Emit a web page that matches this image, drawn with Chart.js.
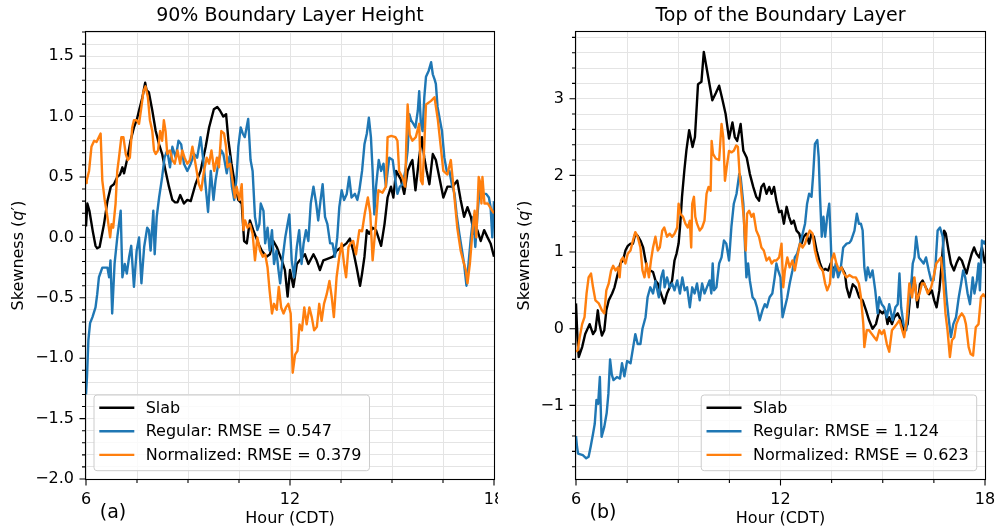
<!DOCTYPE html>
<html>
<head>
<meta charset="utf-8">
<script src="https://cdn.jsdelivr.net/npm/chart.js@4.4.1/dist/chart.umd.min.js"></script>
<style>
  html, body { margin: 0; padding: 0; background: #fff; }
  #wrap { position: relative; width: 996px; height: 530px; overflow: hidden; }
  .panel { position: absolute; top: 0; width: 498px; height: 530px; }
</style>
</head>
<body>
<div id="wrap">
  <div class="panel" style="left:0"><canvas id="cA" width="498" height="530"></canvas></div>
  <div class="panel" style="left:498px"><canvas id="cB" width="498" height="530"></canvas></div>
</div>
<script>
// ---- Panel (a): skewness at 90% boundary layer height, [hour CDT, skewness] ----
const slabA = [[6.00,0.09],[6.04,0.28],[6.10,0.22],[6.20,0.05],[6.28,-0.07],[6.33,-0.09],[6.40,-0.08],[6.53,0.11],[6.63,0.30],[6.73,0.42],[6.82,0.44],[6.92,0.50],[7.00,0.52],[7.07,0.58],[7.12,0.53],[7.22,0.66],[7.31,0.80],[7.41,0.91],[7.50,0.98],[7.56,1.05],[7.66,1.16],[7.74,1.28],[7.78,1.22],[7.85,1.20],[7.95,1.05],[8.05,0.88],[8.15,0.77],[8.24,0.69],[8.34,0.55],[8.44,0.42],[8.54,0.31],[8.62,0.29],[8.69,0.29],[8.77,0.35],[8.88,0.28],[8.98,0.31],[9.08,0.30],[9.22,0.44],[9.37,0.55],[9.52,0.75],[9.62,0.91],[9.76,1.06],[9.86,1.08],[9.94,1.05],[10.04,1.00],[10.12,1.02],[10.19,0.80],[10.28,0.61],[10.38,0.44],[10.48,0.31],[10.58,0.28],[10.65,-0.03],[10.73,-0.05],[10.82,0.14],[10.92,0.06],[11.07,-0.05],[11.17,-0.11],[11.31,-0.16],[11.41,-0.14],[11.51,-0.03],[11.61,-0.08],[11.76,-0.19],[11.85,-0.27],[11.93,-0.49],[12.00,-0.27],[12.10,-0.41],[12.20,-0.22],[12.29,-0.19],[12.44,-0.14],[12.54,-0.22],[12.69,-0.14],[12.78,-0.19],[12.88,-0.27],[12.98,-0.19],[13.08,-0.18],[13.27,-0.16],[13.37,-0.11],[13.52,-0.08],[13.66,-0.05],[13.76,-0.01],[13.86,-0.11],[13.96,-0.25],[14.06,-0.40],[14.12,-0.30],[14.19,-0.16],[14.26,0.06],[14.33,0.03],[14.43,0.08],[14.53,0.06],[14.68,-0.07],[14.78,0.11],[14.87,0.33],[14.97,0.42],[15.04,0.33],[15.12,0.55],[15.26,0.48],[15.36,0.36],[15.46,0.55],[15.56,0.62],[15.60,0.64],[15.69,0.39],[15.79,0.64],[15.88,0.83],[15.95,0.66],[16.02,0.55],[16.10,0.44],[16.20,0.69],[16.29,0.64],[16.39,0.50],[16.51,0.33],[16.63,0.42],[16.78,0.42],[16.92,0.47],[17.02,0.31],[17.12,0.17],[17.22,0.25],[17.32,0.17],[17.41,0.03],[17.51,0.06],[17.61,-0.03],[17.71,0.06],[17.81,0.00],[17.90,-0.05],[18.00,-0.16]];

const regularA = [[6.00,-1.30],[6.03,-1.15],[6.07,-0.85],[6.12,-0.71],[6.19,-0.66],[6.28,-0.58],[6.33,-0.47],[6.38,-0.33],[6.48,-0.25],[6.63,-0.25],[6.68,-0.33],[6.72,-0.19],[6.77,-0.63],[6.84,-0.22],[6.92,0.00],[7.02,0.22],[7.07,-0.33],[7.14,-0.22],[7.20,-0.30],[7.27,-0.16],[7.33,-0.07],[7.41,-0.41],[7.49,-0.11],[7.56,0.00],[7.63,-0.38],[7.71,-0.08],[7.80,0.08],[7.85,0.06],[7.90,-0.11],[7.98,0.22],[8.02,-0.14],[8.08,0.17],[8.15,0.33],[8.24,0.50],[8.31,0.66],[8.39,0.72],[8.47,0.58],[8.54,0.75],[8.64,0.66],[8.72,0.80],[8.80,0.77],[8.88,0.61],[8.98,0.55],[9.08,0.61],[9.18,0.69],[9.27,0.66],[9.37,0.83],[9.45,0.64],[9.52,0.42],[9.59,0.21],[9.67,0.55],[9.75,0.31],[9.81,0.47],[9.91,0.64],[9.98,0.72],[10.04,0.69],[10.14,0.53],[10.22,0.67],[10.29,0.42],[10.36,0.31],[10.43,0.50],[10.48,0.75],[10.55,0.91],[10.61,0.86],[10.67,0.83],[10.77,0.98],[10.84,0.64],[10.90,0.55],[10.97,0.17],[11.04,0.06],[11.10,0.11],[11.14,0.28],[11.22,0.22],[11.27,-0.05],[11.34,0.08],[11.40,-0.11],[11.47,0.06],[11.53,-0.22],[11.60,-0.11],[11.66,-0.27],[11.71,-0.38],[11.79,-0.16],[11.86,0.00],[11.91,0.08],[11.98,0.19],[12.05,-0.19],[12.12,-0.33],[12.20,-0.08],[12.27,0.06],[12.34,-0.22],[12.40,-0.05],[12.47,0.06],[12.54,-0.03],[12.61,0.28],[12.69,0.42],[12.77,0.28],[12.83,0.14],[12.90,0.31],[12.96,0.44],[13.03,0.17],[13.10,0.11],[13.18,-0.05],[13.25,-0.05],[13.32,-0.16],[13.39,0.00],[13.45,0.25],[13.52,0.39],[13.59,0.31],[13.67,0.36],[13.74,0.50],[13.81,0.33],[13.91,0.36],[13.98,0.31],[14.04,0.39],[14.12,0.55],[14.19,0.77],[14.26,0.86],[14.32,0.99],[14.38,0.83],[14.43,0.55],[14.48,0.19],[14.53,0.42],[14.61,0.64],[14.68,0.55],[14.75,0.61],[14.82,0.42],[14.92,0.66],[15.02,0.64],[15.10,0.47],[15.16,0.36],[15.23,0.42],[15.31,0.44],[15.39,0.55],[15.46,0.72],[15.51,1.02],[15.56,0.97],[15.63,0.94],[15.69,0.91],[15.76,1.05],[15.80,1.21],[15.85,0.94],[15.90,0.88],[15.95,1.16],[16.00,1.33],[16.08,1.38],[16.15,1.45],[16.20,1.35],[16.25,1.31],[16.29,1.27],[16.34,1.08],[16.41,0.97],[16.47,0.88],[16.54,0.66],[16.61,0.55],[16.69,0.55],[16.76,0.44],[16.84,0.36],[16.90,0.19],[16.98,0.03],[17.06,-0.11],[17.12,-0.22],[17.19,-0.40],[17.25,-0.22],[17.32,0.00],[17.39,0.17],[17.45,-0.08],[17.51,0.17],[17.58,0.42],[17.64,0.33],[17.71,0.36],[17.77,0.36],[17.85,0.33],[17.90,0.25],[17.95,0.00],[18.00,0.30]];

const normalizedA = [[6.00,0.45],[6.02,0.47],[6.09,0.55],[6.16,0.75],[6.24,0.80],[6.31,0.79],[6.38,0.83],[6.43,0.86],[6.48,0.47],[6.55,0.31],[6.63,0.17],[6.71,0.00],[6.75,0.11],[6.80,0.08],[6.87,0.28],[6.92,0.55],[6.97,0.66],[7.04,0.83],[7.10,0.83],[7.17,0.69],[7.23,0.64],[7.29,0.66],[7.36,0.91],[7.41,0.97],[7.49,0.97],[7.56,0.94],[7.63,1.08],[7.69,1.21],[7.75,1.25],[7.82,1.16],[7.88,0.97],[7.95,0.88],[8.00,0.72],[8.05,0.69],[8.12,0.72],[8.18,0.88],[8.24,0.80],[8.29,0.97],[8.34,0.88],[8.39,0.69],[8.47,0.72],[8.54,0.64],[8.61,0.61],[8.69,0.72],[8.77,0.61],[8.83,0.72],[8.90,0.66],[8.98,0.61],[9.06,0.64],[9.13,0.75],[9.22,0.61],[9.32,0.44],[9.39,0.39],[9.47,0.55],[9.55,0.66],[9.62,0.61],[9.69,0.72],[9.77,0.55],[9.85,0.66],[9.91,0.58],[9.98,0.88],[10.06,0.86],[10.12,0.75],[10.16,0.58],[10.24,0.61],[10.31,0.47],[10.38,0.33],[10.43,0.42],[10.51,0.31],[10.58,0.44],[10.63,0.06],[10.68,0.14],[10.75,0.08],[10.82,0.11],[10.90,0.03],[10.97,-0.19],[11.04,0.00],[11.12,-0.11],[11.20,-0.16],[11.27,-0.14],[11.34,-0.25],[11.40,-0.44],[11.47,-0.63],[11.53,-0.55],[11.61,-0.60],[11.67,-0.41],[11.74,-0.58],[11.81,-0.63],[11.88,-0.58],[11.95,-0.55],[12.02,-0.63],[12.08,-1.12],[12.15,-0.97],[12.22,-0.94],[12.28,-0.72],[12.35,-0.77],[12.42,-0.58],[12.49,-0.72],[12.57,-0.58],[12.64,-0.66],[12.71,-0.77],[12.79,-0.74],[12.86,-0.55],[12.93,-0.69],[13.00,-0.55],[13.08,-0.47],[13.16,-0.36],[13.23,-0.50],[13.29,-0.66],[13.37,-0.33],[13.45,-0.16],[13.52,-0.05],[13.59,-0.22],[13.65,-0.33],[13.72,-0.08],[13.78,-0.05],[13.86,-0.03],[13.94,-0.14],[14.04,0.06],[14.12,0.05],[14.20,0.20],[14.29,0.33],[14.36,0.20],[14.43,-0.19],[14.52,0.10],[14.60,0.39],[14.72,0.37],[14.82,0.42],[14.87,0.83],[14.98,0.84],[15.10,0.83],[15.16,0.80],[15.21,0.55],[15.30,0.50],[15.39,0.42],[15.42,0.78],[15.46,1.10],[15.52,0.85],[15.60,0.80],[15.70,0.83],[15.80,0.94],[15.85,0.47],[15.90,0.44],[16.00,1.10],[16.15,1.13],[16.25,1.16],[16.35,0.97],[16.51,0.55],[16.63,0.52],[16.73,0.64],[16.80,0.44],[16.92,0.08],[17.02,-0.11],[17.09,-0.19],[17.17,-0.27],[17.22,-0.38],[17.29,-0.22],[17.37,0.06],[17.43,0.22],[17.48,0.00],[17.55,0.50],[17.60,0.45],[17.63,0.28],[17.66,0.50],[17.72,0.28],[17.82,0.28],[17.95,0.22],[18.00,0.20]];

// ---- Panel (b): skewness at the top of the boundary layer ----
const slabB = [[6.00,0.33],[6.04,-0.10],[6.08,-0.37],[6.18,-0.24],[6.27,-0.07],[6.40,0.06],[6.50,-0.07],[6.57,-0.02],[6.64,0.24],[6.69,0.06],[6.76,-0.09],[6.83,-0.02],[6.89,0.24],[6.96,0.37],[7.06,0.46],[7.13,0.54],[7.20,0.67],[7.30,0.85],[7.38,0.89],[7.45,1.02],[7.52,1.08],[7.60,1.11],[7.67,1.11],[7.74,1.24],[7.81,1.21],[7.89,1.15],[7.97,1.06],[8.04,0.89],[8.10,0.76],[8.18,0.76],[8.26,0.74],[8.33,0.63],[8.40,0.59],[8.46,0.50],[8.53,0.41],[8.59,0.33],[8.67,0.46],[8.75,0.54],[8.82,0.63],[8.89,0.89],[8.95,0.98],[9.01,1.11],[9.06,1.37],[9.11,1.72],[9.18,2.07],[9.24,2.33],[9.32,2.59],[9.38,2.46],[9.42,2.37],[9.49,2.50],[9.58,3.19],[9.68,3.22],[9.75,3.61],[9.88,3.28],[10.00,2.98],[10.10,3.07],[10.20,3.17],[10.30,2.98],[10.39,2.80],[10.49,2.48],[10.59,2.69],[10.66,2.50],[10.73,2.45],[10.83,2.67],[10.91,2.32],[11.01,2.23],[11.10,2.02],[11.20,1.85],[11.29,1.72],[11.37,1.67],[11.44,1.85],[11.51,1.89],[11.59,1.76],[11.67,1.85],[11.74,1.76],[11.81,1.85],[11.88,1.67],[11.96,1.52],[12.03,1.54],[12.10,1.37],[12.18,1.59],[12.25,1.46],[12.32,1.37],[12.39,1.41],[12.47,1.28],[12.55,1.24],[12.62,1.11],[12.68,1.20],[12.76,1.24],[12.84,1.11],[12.91,1.24],[12.98,1.20],[13.06,1.02],[13.16,0.85],[13.24,0.76],[13.31,0.78],[13.40,0.76],[13.47,0.85],[13.55,0.78],[13.62,0.80],[13.69,0.76],[13.79,0.80],[13.89,0.72],[13.94,0.54],[14.02,0.41],[14.12,0.58],[14.21,0.54],[14.31,0.41],[14.41,0.37],[14.51,0.24],[14.60,0.11],[14.70,0.00],[14.80,0.06],[14.90,0.24],[14.99,0.20],[15.07,0.24],[15.14,0.06],[15.19,0.15],[15.27,0.06],[15.34,0.15],[15.44,0.20],[15.53,0.11],[15.63,-0.02],[15.73,0.06],[15.82,0.50],[15.87,0.67],[15.95,0.58],[16.02,0.28],[16.09,0.58],[16.17,0.63],[16.26,0.54],[16.36,0.45],[16.44,0.50],[16.51,0.37],[16.58,0.28],[16.66,0.50],[16.73,0.85],[16.80,1.28],[16.85,1.24],[16.93,1.02],[17.00,0.85],[17.09,0.76],[17.16,0.85],[17.24,0.93],[17.32,0.89],[17.39,0.80],[17.46,0.72],[17.53,0.85],[17.61,0.98],[17.68,1.06],[17.75,0.98],[17.83,0.93],[17.91,1.06],[17.98,0.89],[18.00,0.85]];

const regularB = [[6.00,-1.40],[6.03,-1.54],[6.06,-1.63],[6.20,-1.65],[6.30,-1.69],[6.37,-1.67],[6.43,-1.54],[6.50,-1.37],[6.55,-1.24],[6.60,-0.93],[6.65,-0.98],[6.70,-0.63],[6.75,-1.41],[6.83,-1.28],[6.90,-1.10],[6.95,-0.85],[7.00,-0.40],[7.05,-0.60],[7.10,-0.67],[7.20,-0.63],[7.29,-0.65],[7.35,-0.45],[7.42,-0.62],[7.50,-0.42],[7.60,-0.45],[7.67,-0.26],[7.74,-0.07],[7.81,-0.20],[7.89,-0.20],[7.95,0.00],[8.04,0.15],[8.10,0.41],[8.18,0.54],[8.26,0.46],[8.33,0.62],[8.43,0.41],[8.50,0.67],[8.56,0.76],[8.60,0.54],[8.67,0.67],[8.75,0.54],[8.82,0.59],[8.89,0.50],[8.97,0.63],[9.05,0.46],[9.12,0.67],[9.19,0.50],[9.26,0.54],[9.34,0.28],[9.41,0.54],[9.48,0.46],[9.55,0.59],[9.63,0.37],[9.70,0.59],[9.77,0.46],[9.84,0.54],[9.92,0.63],[9.97,0.46],[10.01,0.85],[10.05,0.50],[10.12,0.54],[10.20,0.85],[10.27,0.93],[10.34,1.15],[10.41,1.11],[10.49,0.89],[10.56,1.33],[10.63,1.63],[10.71,1.76],[10.79,2.02],[10.83,1.98],[10.86,1.85],[10.91,1.63],[10.96,1.06],[11.00,0.67],[11.05,0.85],[11.10,0.63],[11.18,0.41],[11.25,0.37],[11.31,0.28],[11.39,0.11],[11.47,0.24],[11.54,0.32],[11.60,0.28],[11.68,0.41],[11.76,0.46],[11.83,0.67],[11.88,0.85],[11.93,0.76],[12.00,0.67],[12.06,0.15],[12.13,0.28],[12.20,0.41],[12.27,0.59],[12.35,0.76],[12.42,0.93],[12.49,0.98],[12.57,1.11],[12.65,1.24],[12.72,1.37],[12.78,1.63],[12.84,1.76],[12.91,1.72],[12.96,2.02],[13.01,2.41],[13.08,2.46],[13.12,2.24],[13.16,1.72],[13.21,1.20],[13.26,1.46],[13.31,1.20],[13.37,1.46],[13.43,1.63],[13.47,1.20],[13.50,0.85],[13.55,0.67],[13.62,0.85],[13.69,0.67],[13.76,0.76],[13.84,1.06],[13.94,1.11],[14.02,1.12],[14.07,1.15],[14.17,1.28],[14.24,1.50],[14.30,1.37],[14.36,1.37],[14.41,1.28],[14.46,0.80],[14.51,0.63],[14.56,0.80],[14.63,0.67],[14.70,0.76],[14.78,0.50],[14.85,0.20],[14.90,0.41],[14.97,0.32],[15.04,0.28],[15.12,0.15],[15.19,0.32],[15.29,0.11],[15.37,0.28],[15.44,0.32],[15.49,0.72],[15.54,0.28],[15.61,0.06],[15.69,-0.02],[15.76,0.32],[15.83,0.54],[15.88,0.85],[15.93,0.93],[15.98,1.20],[16.06,0.93],[16.13,0.89],[16.20,0.85],[16.27,0.93],[16.35,0.76],[16.42,0.63],[16.49,0.63],[16.55,0.85],[16.61,1.28],[16.68,1.32],[16.76,1.20],[16.81,0.76],[16.87,0.41],[16.93,0.15],[17.00,-0.11],[17.07,0.06],[17.15,0.15],[17.23,0.41],[17.30,0.59],[17.36,0.76],[17.42,0.67],[17.49,0.46],[17.56,0.32],[17.64,0.67],[17.69,0.46],[17.76,0.63],[17.81,0.85],[17.85,0.50],[17.91,1.15],[17.98,1.11],[18.00,1.15]];

const normalizedB = [[6.00,-0.30],[6.05,-0.28],[6.11,-0.11],[6.18,0.06],[6.25,0.15],[6.31,0.46],[6.37,0.67],[6.44,0.72],[6.50,0.54],[6.57,0.37],[6.67,0.33],[6.76,0.24],[6.83,0.20],[6.89,0.50],[6.96,0.59],[7.03,0.76],[7.09,0.82],[7.16,0.76],[7.23,0.80],[7.28,0.67],[7.32,0.89],[7.38,0.93],[7.45,0.85],[7.52,0.98],[7.60,1.02],[7.67,1.15],[7.74,1.26],[7.81,1.20],[7.89,1.06],[7.95,0.76],[8.01,0.67],[8.07,0.85],[8.14,0.67],[8.20,0.89],[8.26,1.06],[8.33,1.20],[8.40,1.02],[8.46,1.06],[8.53,1.28],[8.59,1.32],[8.67,1.20],[8.75,1.24],[8.82,1.20],[8.89,1.24],[8.97,1.32],[9.01,1.63],[9.06,1.50],[9.14,1.46],[9.21,1.37],[9.28,1.32],[9.34,1.41],[9.38,1.06],[9.41,1.63],[9.46,1.72],[9.50,1.46],[9.55,1.37],[9.63,1.28],[9.70,1.32],[9.77,1.41],[9.83,1.76],[9.89,1.85],[9.95,1.80],[9.98,2.45],[10.02,2.28],[10.10,2.22],[10.20,2.20],[10.27,2.67],[10.32,2.50],[10.37,1.93],[10.42,2.10],[10.49,2.32],[10.56,2.30],[10.63,2.32],[10.70,2.39],[10.75,2.37],[10.80,2.02],[10.86,1.74],[10.92,1.46],[10.98,1.02],[11.02,1.50],[11.08,1.54],[11.15,1.46],[11.21,1.50],[11.29,1.28],[11.37,1.20],[11.44,1.06],[11.51,1.02],[11.59,0.89],[11.67,0.93],[11.74,0.85],[11.81,0.89],[11.88,0.89],[11.96,0.93],[12.03,1.11],[12.08,0.54],[12.13,0.76],[12.20,0.93],[12.27,0.80],[12.35,0.89],[12.42,0.76],[12.49,0.93],[12.57,1.11],[12.65,1.06],[12.72,1.11],[12.78,1.20],[12.86,1.28],[12.94,1.24],[13.01,1.02],[13.08,0.89],[13.16,0.80],[13.24,0.76],[13.31,0.59],[13.37,0.50],[13.45,0.59],[13.50,0.89],[13.57,0.98],[13.64,0.85],[13.72,0.76],[13.79,0.80],[13.86,0.72],[13.94,0.67],[14.02,0.70],[14.12,0.67],[14.21,0.67],[14.30,0.59],[14.36,0.41],[14.43,0.06],[14.46,-0.24],[14.53,-0.02],[14.60,-0.02],[14.68,-0.07],[14.75,-0.11],[14.82,-0.15],[14.90,-0.02],[14.97,-0.07],[15.04,-0.02],[15.12,-0.20],[15.19,-0.30],[15.27,-0.02],[15.34,0.02],[15.41,0.06],[15.49,0.11],[15.57,-0.02],[15.63,-0.11],[15.70,0.11],[15.78,0.59],[15.86,0.41],[15.93,0.67],[16.00,0.37],[16.08,0.46],[16.15,0.59],[16.22,0.59],[16.32,0.46],[16.42,0.54],[16.49,0.67],[16.57,0.85],[16.64,0.89],[16.71,0.93],[16.78,0.59],[16.84,0.20],[16.90,-0.02],[16.97,-0.37],[17.03,-0.15],[17.10,-0.11],[17.16,0.06],[17.24,0.15],[17.32,0.20],[17.39,0.15],[17.44,0.06],[17.52,-0.24],[17.58,-0.33],[17.65,-0.35],[17.73,0.02],[17.81,0.06],[17.88,0.41],[17.95,0.45],[18.00,0.41]];

// ---- Labels ----
const hourTicks = [6, 12, 18];
const rmseA = { regular: '0.547', normalized: '0.379' };
const rmseB = { regular: '1.124', normalized: '0.623' };

const FONT = "'DejaVu Sans', 'Liberation Sans', sans-serif";
const C_SLAB = '#000000', C_REG = '#1f77b4', C_NORM = '#ff7f0e';
const GRID = '#e4e4e4';

function toPoints(arr) { return arr.map(p => ({ x: p[0], y: p[1] })); }
function minus(s) { return s.replace('-', '\u2212'); }

// Text, legend, frame and tick marks drawn on top of the plot
function makeDecor(cfg) {
  const entries = [
    { label: 'Slab', color: C_SLAB },
    { label: 'Regular: RMSE = ' + cfg.rmse.regular, color: C_REG },
    { label: 'Normalized: RMSE = ' + cfg.rmse.normalized, color: C_NORM }
  ];
  return {
    id: 'decor',
    afterDraw(chart) {
      const ctx = chart.ctx, a = chart.chartArea;
      const xs = chart.scales.x, ys = chart.scales.y;
      ctx.save();

      // legend box
      ctx.font = '16px ' + FONT;
      const tw = Math.max(...entries.map(e => ctx.measureText(e.label).width));
      const bw = 51.7 + tw + 8, bh = 75.7;
      const bx = cfg.legendSide === 'left' ? a.left + 8 : a.right - 8.3 - bw;
      const by = a.bottom - 8.3 - bh;
      ctx.beginPath();
      ctx.roundRect(bx, by, bw, bh, 3);
      ctx.fillStyle = 'rgba(255,255,255,0.8)';
      ctx.fill();
      ctx.strokeStyle = '#cccccc';
      ctx.lineWidth = 1;
      ctx.stroke();
      entries.forEach((e, i) => {
        const ry = by + 12.7 + i * 23.6;
        ctx.beginPath();
        ctx.moveTo(bx + 5.3, ry);
        ctx.lineTo(bx + 40.3, ry);
        ctx.strokeStyle = e.color;
        ctx.lineWidth = 2.4;
        ctx.stroke();
        ctx.fillStyle = '#000';
        ctx.textAlign = 'left';
        ctx.textBaseline = 'middle';
        ctx.fillText(e.label, bx + 51.7, ry + 1);
      });

      // frame
      ctx.strokeStyle = '#000';
      ctx.lineWidth = 1.1;
      ctx.strokeRect(a.left - 0.5, a.top - 0.5, a.right - a.left + 1, a.bottom - a.top + 1);

      // tick marks
      ctx.beginPath();
      ys.ticks.forEach(t => {
        const p = ys.getPixelForValue(t.value);
        const len = cfg.isMajorY(t.value) ? 6 : 3.5;
        ctx.moveTo(a.left - 0.5, p);
        ctx.lineTo(a.left - 0.5 - len, p);
      });
      xs.ticks.forEach(t => {
        const p = xs.getPixelForValue(t.value);
        const len = hourTicks.includes(t.value) ? 6 : 3.5;
        ctx.moveTo(p, a.bottom + 0.5);
        ctx.lineTo(p, a.bottom + 0.5 + len);
      });
      ctx.stroke();

      // title
      const cx = (a.left + a.right) / 2;
      ctx.fillStyle = '#000';
      ctx.textAlign = 'center';
      ctx.textBaseline = 'middle';
      ctx.font = '19px ' + FONT;
      ctx.fillText(cfg.title, cx, 16);

      // x-axis label and panel letter
      ctx.font = '16px ' + FONT;
      ctx.fillText('Hour (CDT)', cx, 519);
      ctx.font = '19px ' + FONT;
      ctx.fillText(cfg.panel, a.left + 27, 513);

      // y-axis label: Skewness (q′) with italic q
      const parts = [
        { t: 'Skewness (', f: '16px ' + FONT },
        { t: 'q', f: 'italic 16px ' + FONT },
        { t: '\u2032)', f: '16px ' + FONT }
      ];
      let total = 0;
      parts.forEach(p => { ctx.font = p.f; p.w = ctx.measureText(p.t).width; total += p.w; });
      ctx.translate(cfg.yLabelX, (a.top + a.bottom) / 2);
      ctx.rotate(-Math.PI / 2);
      ctx.textAlign = 'left';
      let px = -total / 2;
      parts.forEach(p => { ctx.font = p.f; ctx.fillText(p.t, px, 0); px += p.w; });
      ctx.restore();
    }
  };
}

function makeChart(id, cfg) {
  return new Chart(document.getElementById(id), {
    type: 'line',
    data: {
      datasets: [
        { label: 'Slab', data: toPoints(cfg.slab), borderColor: C_SLAB, order: 2 },
        { label: 'Regular: RMSE = ' + cfg.rmse.regular, data: toPoints(cfg.regular), borderColor: C_REG, order: 1 },
        { label: 'Normalized: RMSE = ' + cfg.rmse.normalized, data: toPoints(cfg.normalized), borderColor: C_NORM, order: 0 }
      ]
    },
    options: {
      responsive: false,
      animation: false,
      devicePixelRatio: 1,
      datasets: { line: { borderWidth: 2.4, pointRadius: 0, tension: 0, fill: false, borderJoinStyle: 'round' } },
      layout: { padding: { left: 0, right: cfg.padRight, top: 32, bottom: 0 } },
      plugins: {
        legend: { display: false },
        tooltip: { enabled: false }
      },
      scales: {
        x: {
          type: 'linear',
          min: 6, max: 18,
          afterFit(s) { s.height = 51; s.paddingLeft = 0; s.paddingRight = 0; },
          grid: { color: GRID, lineWidth: 1, drawTicks: false },
          border: { display: false },
          ticks: {
            stepSize: 1.5, autoSkip: false, maxRotation: 0, minRotation: 0,
            padding: 11, color: '#000', font: { family: FONT, size: 16 },
            callback: v => hourTicks.includes(v) ? String(v) : ''
          }
        },
        y: {
          type: 'linear',
          min: cfg.yMin, max: cfg.yMax,
          afterFit(s) { s.width = cfg.yWidth; s.paddingTop = 0; s.paddingBottom = 0; },
          grid: { color: GRID, lineWidth: 1, drawTicks: false },
          border: { display: false },
          ticks: {
            stepSize: cfg.yStep, includeBounds: false, autoSkip: false, maxTicksLimit: 1000,
            padding: 12, color: '#000', font: { family: FONT, size: 16 },
            callback: v => cfg.isMajorY(v) ? cfg.fmtY(v) : ''
          }
        }
      }
    },
    plugins: [makeDecor(cfg)]
  });
}

makeChart('cA', {
  slab: slabA, regular: regularA, normalized: normalizedA, rmse: rmseA,
  title: '90% Boundary Layer Height', panel: '(a)', legendSide: 'left',
  yMin: -2.0, yMax: 1.7, yStep: 0.1, yWidth: 86, padRight: 4, yLabelX: 19,
  isMajorY: v => Math.abs(Math.round(v * 10)) % 5 === 0,
  fmtY: v => { const r = Math.round(v * 10) / 10; return r === 0 ? '0.0' : minus(r.toFixed(1)); }
});

makeChart('cB', {
  slab: slabB, regular: regularB, normalized: normalizedB, rmse: rmseB,
  title: 'Top of the Boundary Layer', panel: '(b)', legendSide: 'right',
  yMin: -1.96, yMax: 3.87, yStep: 0.2, yWidth: 78, padRight: 11, yLabelX: 27,
  isMajorY: v => Math.abs(v - Math.round(v)) < 1e-6,
  fmtY: v => minus(String(Math.round(v)))
});
</script>
</body>
</html>
